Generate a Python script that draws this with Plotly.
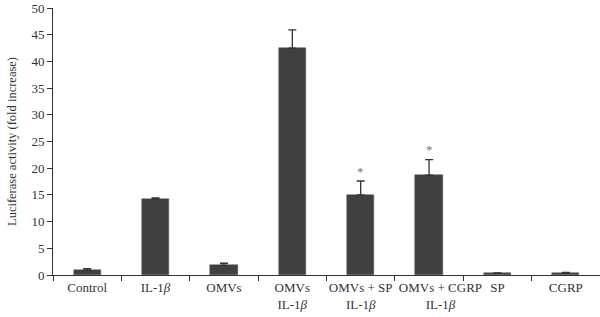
import plotly.graph_objects as go

pad = "\u00a0" * 7
categories = ["Control", "IL-1<i>β</i>", "OMVs", "OMVs<br>IL-1<i>β</i>",
              "OMVs + SP<br>IL-1<i>β</i>",
              pad + "OMVs + CGRP<br>" + pad + "IL-1<i>β</i>", "SP", "CGRP"]
values = [0.9, 14.2, 1.8, 42.5, 15.0, 18.7, 0.3, 0.35]
errors = [0.3, 0.25, 0.4, 3.4, 2.6, 2.9, 0.1, 0.15]
significant = [False, False, False, False, True, True, False, False]

fig = go.Figure()
fig.add_trace(go.Bar(
    x=categories, y=values, width=0.4,
    marker=dict(color="#404040", line=dict(color="#555555", width=0.5)),
    error_y=dict(type="data", array=errors, arrayminus=[0] * len(errors),
                 symmetric=False, color="#333333", thickness=1.3, width=4),
))
for c, v, e, s in zip(categories, values, errors, significant):
    if s:
        fig.add_annotation(x=c, y=v + e, text="*", showarrow=False, yshift=10,
                           font=dict(size=13, color="#777777", family="Liberation Serif"))

fig.update_layout(
    width=600, height=317,
    margin=dict(l=53, r=0, t=8, b=42, autoexpand=False),
    plot_bgcolor="white", paper_bgcolor="white",
    showlegend=False,
    font=dict(family="Liberation Serif", size=12, color="#333333"),
    bargap=0,
)
fig.update_xaxes(
    range=[-0.5, 7.5], showline=True, linecolor="#333333", linewidth=1,
    ticks="outside", tickson="boundaries", ticklen=5, tickcolor="#333333",
    tickfont=dict(size=13), showgrid=False, tickangle=0, automargin=False,
)
fig.update_yaxes(
    range=[0, 50], dtick=5, showline=True, linecolor="#333333", linewidth=1,
    ticks="outside", ticklen=5, tickcolor="#333333", showgrid=False, zeroline=False,
    title=dict(text="Luciferase activity (fold increase)", font=dict(size=12.5), standoff=12),
    tickfont=dict(size=13), automargin=False,
)
fig.write_html("out.html", config={"displayModeBar": False},
               post_script="document.body.style.margin='0';")
